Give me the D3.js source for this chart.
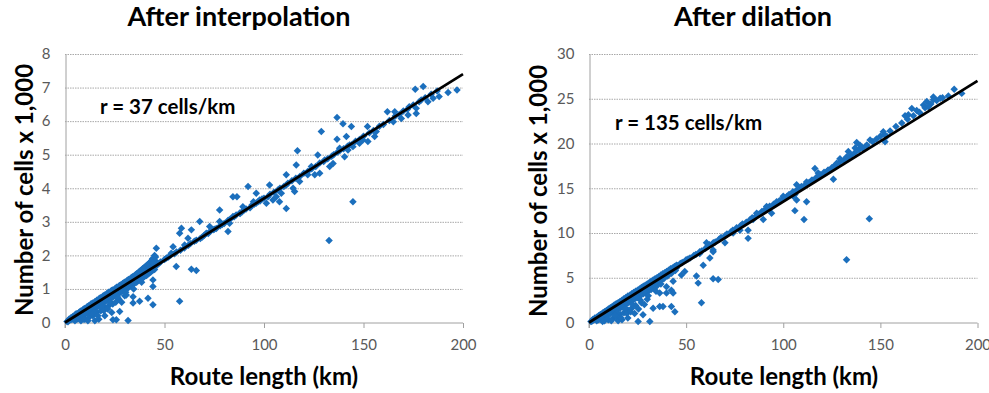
<!DOCTYPE html>
<html>
<head>
<meta charset="utf-8">
<script src="https://cdn.jsdelivr.net/npm/d3@7"></script>
<style>
  html, body { margin: 0; padding: 0; background: #fff; }
  svg { display: block; }
  text { font-family: Lato, "Open Sans", sans-serif; }
</style>
</head>
<body>
<svg id="chart" width="989" height="393"></svg>
<script>
// ---------------- DATA ----------------
const xTicks = [0, 50, 100, 150, 200];
const leftYTicks = [0, 1, 2, 3, 4, 5, 6, 7, 8];
const rightYTicks = [0, 5, 10, 15, 20, 25, 30];

const leftTitle = "After interpolation";
const rightTitle = "After dilation";
const yLabel = "Number of cells x 1,000";
const xLabel = "Route length (km)";
const leftNote = "r = 37 cells/km";
const rightNote = "r = 135 cells/km";

// fitted lines (km, cells x 1,000)
const leftFit = [[0, 0], [200, 7.4]];
const rightFit = [[0, 0], [200, 27]];

// After interpolation: dense cluster near origin
const leftDense = [
 [1,0.03],[2,0.06],[2,0.1],[3,0.08],[3,0.14],[4,0.1],[4,0.18],[5,0.15],[5,0.22],[5,0.05],
 [6,0.2],[6,0.26],[6,0.1],[7,0.22],[7,0.3],[7,0.12],[8,0.27],[8,0.34],[8,0.15],[8,0.05],
 [9,0.3],[9,0.38],[9,0.2],[10,0.35],[10,0.42],[10,0.25],[10,0.1],[11,0.38],[11,0.46],[11,0.28],
 [12,0.42],[12,0.5],[12,0.32],[12,0.15],[13,0.46],[13,0.55],[13,0.36],[14,0.5],[14,0.58],[14,0.4],
 [14,0.2],[15,0.53],[15,0.62],[15,0.42],[15,0.05],[16,0.57],[16,0.66],[16,0.46],[16,0.3],[17,0.6],
 [17,0.7],[17,0.5],[17,0.1],[18,0.64],[18,0.74],[18,0.55],[18,0.35],[19,0.68],[19,0.78],[19,0.58],
 [20,0.72],[20,0.82],[20,0.62],[20,0.45],[20,0.2],[21,0.75],[21,0.86],[21,0.66],[22,0.79],[22,0.9],
 [22,0.7],[22,0.5],[23,0.83],[23,0.93],[23,0.72],[24,0.86],[24,0.97],[24,0.75],[24,0.55],[25,0.9],
 [25,1.0],[25,0.8],[26,0.94],[26,1.05],[26,0.82],[27,0.98],[27,1.08],[27,0.88],[27,0.7],[28,1.01],
 [28,1.12],[28,0.9],[29,1.05],[29,1.16],[29,0.95],[30,1.08],[30,1.2],[30,0.98],[30,0.8],[31,1.12],
 [31,1.24],[31,1.0],[32,1.16],[32,1.28],[32,1.05],[33,1.2],[33,1.32],[33,1.1],[34,1.24],[34,1.36],
 [34,1.12],[35,1.28],[35,1.4],[35,1.18],[36,1.31],[36,1.45],[36,1.2],[37,1.35],[37,1.5],[37,1.25],
 [38,1.4],[38,1.55],[38,1.28],[39,1.43],[39,1.6],[39,1.32],[40,1.46],[40,1.65],[40,1.38],[41,1.5],
 [41,1.7],[41,1.4],[42,1.55],[42,1.75],[42,1.45],[43,1.58],[43,1.8],[43,1.5],[44,1.62],[44,1.9],
 [44,1.55],[45,1.66],[45,2.0],[45,1.58],[46,1.7],[46,1.8]
];
const leftDense2 = [
 [1.5,0.02],[2.5,0.1],[3.5,0.15],[4.5,0.12],[5.5,0.25],[6.5,0.18],[7.5,0.32],[8.5,0.22],[9.5,0.4],[10.5,0.3],
 [11.5,0.48],[12.5,0.38],[13.5,0.56],[14.5,0.3],[15.5,0.6],[16.5,0.52],[17.5,0.72],[18.5,0.45],[19.5,0.8],[20.5,0.68],
 [21.5,0.88],[22.5,0.6],[23.5,0.95],[24.5,0.82],[25.5,1.02],[26.5,0.75],[27.5,1.1],[28.5,0.95],[29.5,1.18],[30.5,0.9],
 [31.5,1.26],[32.5,1.12],[33.5,1.34],[34.5,1.0],[35.5,1.42],[36.5,1.3],[37.5,1.52],[38.5,1.2],[39.5,1.62],[40.5,1.5],
 [41.5,1.72],[42.5,1.62],[43.5,1.85],[44.5,1.7],[45.5,1.95],[13.5,0.25],[16.5,0.2],[19.5,0.35],[21.5,0.4],[23.5,0.3],
 [25.5,0.6],[28.5,0.6],[9.5,0.1],[11.5,0.05]
];
const leftMid = [
 [47,1.75],[48,1.8],[50,1.88],[51,1.92],[52,1.95],[53,2.0],[55,2.05],[56,2.1],[58,2.15],[60,2.22],
 [62,2.3],[63,2.35],[65,2.42],[66,2.45],[68,2.5],[69,2.55],[70,2.6],[72,2.65],[73,2.72],[75,2.78],
 [76,2.8],[78,2.88],[79,2.92],[80,2.95],[82,3.05],[83,3.08],[85,3.15],[86,3.2],[88,3.25],[89,3.3],
 [90,3.35],[91,3.38],[93,3.42],[94,3.5],[95,3.52],[96,3.55],[97,3.6],[98,3.62],[99,3.68],[100,3.7],
 [102,3.75],[103,3.82],[105,3.88],[107,3.95],[108,4.0],[110,4.05],[112,4.15],[114,4.22],[116,4.3],[118,4.35],
 [120,4.45],[122,4.5],[124,4.58],[126,4.65],[128,4.75],[130,4.8],[132,4.88],[134,4.95],[135,5.0],[137,5.08],
 [138,5.12],[140,5.18],[142,5.25],[144,5.3],[146,5.4],[148,5.45],[150,5.55],[153,5.65],[155,5.72],[158,5.85],
 [160,5.9],[163,6.02],[166,6.15],[168,6.2],[170,6.3],[172,6.35],[175,6.48],[178,6.58],[181,6.7],[184,6.8],[187,6.9]
];
const leftScatter = [
 [197,6.93],[180,7.03],[176,6.95],[192.5,6.85],[188,6.73],[162,6.28],[165.7,6.28],[165,5.98],[169,6.08],[172.4,6.18],
 [176.5,6.23],[176.5,6.38],[179,6.63],[182.4,6.58],[185,6.68],[173,6.43],[152,5.84],[156.4,5.69],[155.6,5.54],[152.2,5.39],
 [149.7,5.44],[148,5.34],[136.7,6.11],[139.7,5.92],[143.9,5.84],[136.7,5.46],[141.4,5.54],[138,5.19],[143,5.29],[142.2,5.14],
 [140.5,4.94],[144.7,5.24],[128.8,5.69],[127,4.99],[130.5,4.84],[123.8,4.65],[128,4.45],[125.5,4.4],[122,4.4],[133,4.65],
 [134.7,4.74],[116.8,5.12],[116.2,4.69],[117.9,4.2],[111.2,4.4],[111.2,4.1],[111.2,3.4],[114.6,4.0],[115.4,3.9],[132.7,2.44],
 [144.7,3.6],[92,4.05],[102.8,4.1],[96.1,3.85],[97.8,3.65],[101.2,3.55],[94.7,3.6],[106.2,3.75],[108.7,3.85],[107.8,3.6],
 [104.5,3.65],[84.4,3.75],[86.4,3.75],[81.9,2.71],[89.4,3.45],[87.8,3.26],[84.4,3.16],[82.7,2.96],[77.7,3.35],[77.7,3.01],
 [67.7,3.01],[72.7,2.86],[71,2.66],[74.4,2.76],[58.5,2.81],[63.5,2.76],[61.8,2.51],[60.1,2.31],[57.6,2.66],[54.3,2.26],
 [53.4,2.06],[55.9,1.67],[63.5,1.59],[66,1.55],[57.6,0.63],[45.9,2.21],[44.2,1.77],[42.5,1.52],[40.9,1.42],[44.2,1.27],
 [44.2,1.07],[41.7,0.72],[44.2,0.53],[37.5,0.63],[34.2,0.58],[34.2,0.77],[30.8,0.82],[27.5,0.33],[31.7,0.06],[25.8,0.08],[24.1,0.08]
];

// After dilation
const rightDense = [
 [1,0.1],[2,0.25],[2,0.35],[3,0.4],[3,0.5],[4,0.5],[4,0.6],[4,0.2],[5,0.65],[5,0.75],
 [5,0.3],[6,0.8],[6,0.9],[6,0.4],[7,0.95],[7,1.05],[7,0.5],[7,0.1],[8,1.1],[8,1.2],
 [8,0.6],[8,0.2],[9,1.2],[9,1.35],[9,0.8],[10,1.35],[10,1.5],[10,0.9],[10,0.3],[11,1.5],
 [11,1.65],[11,1.0],[12,1.65],[12,1.8],[12,1.2],[12,0.4],[13,1.8],[13,1.95],[13,1.3],[14,1.9],
 [14,2.1],[14,1.4],[14,0.6],[15,2.05],[15,2.2],[15,1.5],[15,0.2],[16,2.2],[16,2.35],[16,1.6],
 [16,0.9],[17,2.3],[17,2.5],[17,1.8],[17,0.3],[18,2.45],[18,2.65],[18,1.9],[18,1.1],[19,2.6],
 [19,2.8],[19,2.0],[20,2.7],[20,2.95],[20,2.2],[20,1.4],[20,0.5],[21,2.85],[21,3.05],[21,2.3],
 [22,3.0],[22,3.2],[22,2.4],[22,1.6],[23,3.1],[23,3.35],[23,2.6],[24,3.25],[24,3.5],[24,2.7],
 [24,1.9],[25,3.4],[25,3.6],[25,2.8],[26,3.5],[26,3.75],[26,3.0],[27,3.65],[27,3.9],[27,3.1],
 [27,2.2],[28,3.8],[28,4.05],[28,3.2],[29,3.9],[29,4.15],[29,3.3],[30,4.05],[30,4.3],[30,3.5],
 [30,2.6],[31,4.2],[31,4.45],[31,3.6],[32,4.35],[32,4.6],[32,3.7],[33,4.45],[33,4.75],[33,3.9],
 [34,4.6],[34,4.9],[34,4.0],[35,4.75],[35,5.0],[35,4.1],[36,4.85],[36,5.15],[37,5.0],[37,5.3],
 [37,4.3],[38,5.15],[38,5.45],[39,5.3],[39,5.55],[40,5.4],[40,5.7],[41,5.55],[41,5.85],[42,5.7],
 [42,6.0],[43,5.8],[43,6.1],[44,5.95],[44,6.25],[45,6.1],[45,6.4]
];
const rightDense2 = [
 [1.5,0.15],[2.5,0.3],[3.5,0.45],[4.5,0.4],[5.5,0.8],[6.5,0.7],[7.5,1.05],[8.5,0.9],[9.5,1.3],[10.5,1.2],
 [11.5,1.6],[12.5,1.4],[13.5,1.9],[14.5,1.1],[15.5,2.15],[16.5,1.9],[17.5,2.45],[18.5,1.5],[19.5,2.75],[20.5,2.5],
 [21.5,3.0],[22.5,2.0],[23.5,3.3],[24.5,3.0],[25.5,3.55],[26.5,2.5],[27.5,3.85],[28.5,3.5],[29.5,4.1],[30.5,3.0],
 [31.5,4.4],[32.5,4.1],[33.5,4.7],[34.5,3.5],[35.5,4.95],[36.5,4.6],[37.5,5.25],[38.5,4.9],[39.5,5.5],[40.5,5.2],
 [41.5,5.8],[42.5,5.5],[43.5,6.05],[44.5,5.8],[45.5,6.35],[13.5,0.8],[16.5,0.5],[19.5,1.0],[21.5,1.2],[23.5,1.0],
 [25.5,1.5],[28.5,2.0],[9.5,0.4],[11.5,0.2]
];
const rightMid = [
 [47,6.6],[48,6.7],[50,7.0],[51,7.1],[52,7.2],[54,7.5],[55,7.6],[57,7.9],[58,8.0],[60,8.3],
 [61,8.5],[62,8.7],[64,8.9],[65,9.0],[67,9.3],[68,9.5],[70,9.7],[71,9.9],[73,10.1],[74,10.3],
 [76,10.6],[78,10.8],[79,11.0],[81,11.2],[83,11.5],[84,11.7],[86,11.9],[87,12.1],[89,12.4],[90,12.5],
 [92,12.7],[93,13.0],[95,13.2],[97,13.4],[98,13.6],[100,13.9],[102,14.1],[103,14.3],[105,14.6],[107,14.8],
 [109,15.1],[111,15.3],[113,15.6],[115,15.9],[117,16.2],[119,16.5],[121,16.8],[123,17.0],[125,17.3],[127,17.6],
 [129,17.9],[131,18.1],[133,18.4],[135,18.7],[137,19.0],[139,19.3],[141,19.5],[143,19.8],[146,20.2],[148,20.5],
 [150,20.8],[152,21.0],[155,21.4],[158,21.9],[161,22.3],[164,22.7],[167,23.1],[170,23.5],[173,24.0],[176,24.4],
 [179,24.8],[182,25.1],[185,25.3]
];
const rightScatter = [
 [191.9,25.6],[188,26.05],[177.3,25.2],[180.8,25.05],[173.9,24.7],[172.2,24.3],[168.7,23.7],[166.2,23.9],[164.4,23.2],[162.7,23.1],
 [170.4,23.4],[174.7,24.1],[177.3,24.9],[151.5,21.3],[153.3,20.8],[152.4,20.2],[144.7,20.4],[143,19.8],[139.5,19.8],[137.8,20.1],
 [137,19.5],[133.5,19.1],[132.6,18.5],[129.2,18.3],[127.5,17.8],[125.8,17.4],[125.8,16.0],[123.2,17.0],[116.3,17.2],[118,16.7],
 [114.6,15.9],[112,15.7],[106.9,15.4],[109.5,15.2],[106,14.3],[106.9,13.7],[112,13.5],[106,12.5],[110.7,11.5],[105.2,14.1],
 [144.3,11.6],[132.6,7.0],[100,14.1],[96.6,13.5],[94.8,13.1],[91.4,12.95],[94,12.2],[89.7,11.5],[86.3,12.2],[84.5,11.5],
 [81.9,10.3],[81.9,9.4],[77.7,10.3],[74.2,10.0],[70,8.9],[70.8,9.8],[60.5,8.9],[63.9,8.1],[63.9,7.9],[62.2,7.2],
 [57,7.7],[58.8,6.4],[49.3,5.7],[47.6,5.3],[55.3,5.2],[56.2,4.4],[63.9,4.9],[66.5,4.8],[57.9,2.2],[43.3,4.6],
 [39.9,4.0],[42.4,3.6],[39.9,3.3],[43.3,3.3],[36.4,3.3],[38.1,1.8],[36.4,1.8],[42.4,1.8],[44.2,1.2],[33,1.6],
 [27.8,0.86],[25.3,0.1],[31.3,0.1]
];

// ---------------- DRAWING ----------------
const svg = d3.select("#chart");
const pointColor = "#1b6fbd";

const diamond = {
  draw(ctx, size) {
    const r = Math.sqrt(size / 2);
    ctx.moveTo(0, -r); ctx.lineTo(r, 0); ctx.lineTo(0, r); ctx.lineTo(-r, 0); ctx.closePath();
  }
};

function panel(cfg) {
  const x = d3.scaleLinear().domain([0, 200]).range([cfg.x0, cfg.x1]);
  const y = d3.scaleLinear().domain([0, cfg.yMax]).range([cfg.y0, cfg.y1]);
  const g = svg.append("g");

  // grid
  g.append("g").selectAll("line").data(cfg.yTicks.filter(d => d > 0)).join("line")
    .attr("x1", cfg.x0).attr("x2", cfg.x1)
    .attr("y1", d => y(d) + 0.5).attr("y2", d => y(d) + 0.5)
    .attr("stroke", "#a8a8a8").attr("stroke-width", 1).attr("stroke-dasharray", "1.5,1");

  // axes
  const xa = g.append("g").attr("transform", `translate(0,${cfg.y0 + 0.5})`)
    .call(d3.axisBottom(x).tickValues(xTicks).tickSize(5).tickSizeOuter(0).tickPadding(11));
  const ya = g.append("g").attr("transform", `translate(${cfg.x0 + 0.5},0)`)
    .call(d3.axisLeft(y).tickValues(cfg.yTicks).tickSize(0).tickSizeOuter(0).tickPadding(cfg.yPad));
  [xa, ya].forEach(a => {
    a.select(".domain").attr("stroke", "#a0a0a0");
    a.selectAll(".tick line").attr("stroke", "#a0a0a0");
    a.selectAll(".tick text").attr("fill", "#595959").style("font-size", "15px")
      .style("font-family", "Lato, sans-serif");
  });
  xa.select(".domain").attr("d", `M${cfg.x0},5V0H${cfg.x1}`);

  // points
  const sym = d3.symbol().type(diamond).size(28);
  const pts = cfg.dense.concat(cfg.dense2, cfg.mid, cfg.scatter);
  g.append("g").selectAll("path").data(pts).join("path")
    .attr("transform", d => `translate(${x(d[0])},${y(d[1])})`)
    .attr("d", sym).attr("fill", pointColor);

  // fit line
  g.append("path").datum(cfg.fit)
    .attr("d", d3.line().x(d => x(d[0])).y(d => y(d[1])))
    .attr("stroke", "#000").attr("stroke-width", 2.7).attr("fill", "none");

  // texts
  g.append("text").attr("x", cfg.titleX).attr("y", 26).attr("text-anchor", "middle")
    .style("font-weight", "700").style("font-size", "27px").attr("fill", "#000").text(cfg.title);
  g.append("text").attr("transform", `translate(${cfg.yLabX},${cfg.yLabY}) rotate(-90)`)
    .attr("text-anchor", "middle").style("font-weight", "700").style("font-size", "24px")
    .attr("fill", "#000").text(yLabel);
  g.append("text").attr("x", cfg.xLabX).attr("y", 385).attr("text-anchor", "middle")
    .style("font-weight", "700").style("font-size", "24px").attr("fill", "#000").text(xLabel);
  g.append("text").attr("x", cfg.noteX).attr("y", cfg.noteY)
    .style("font-weight", "700").style("font-size", "20.5px").attr("fill", "#000").text(cfg.note);
}

panel({
  x0: 65, x1: 463, y0: 322.5, y1: 54, yMax: 8, yTicks: leftYTicks, yPad: 15,
  dense: leftDense, dense2: leftDense2, mid: leftMid, scatter: leftScatter, fit: leftFit,
  title: leftTitle, titleX: 239, yLabX: 33, yLabY: 190, xLabX: 264,
  note: leftNote, noteX: 100, noteY: 114
});
panel({
  x0: 589, x1: 977.5, y0: 322.5, y1: 54, yMax: 30, yTicks: rightYTicks, yPad: 15,
  dense: rightDense, dense2: rightDense2, mid: rightMid, scatter: rightScatter, fit: rightFit,
  title: rightTitle, titleX: 753, yLabX: 547, yLabY: 191, xLabX: 784,
  note: rightNote, noteX: 615, noteY: 130
});
</script>
</body>
</html>
